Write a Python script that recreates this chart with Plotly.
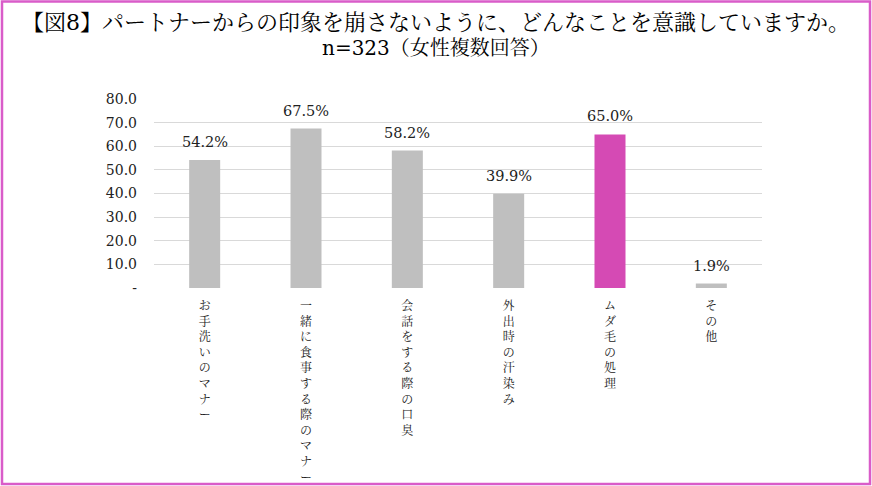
import plotly.graph_objects as go

categories = ["お手洗いのマナー", "一緒に食事する際のマナー", "会話をする際の口臭",
              "外出時の汗染み", "ムダ毛の処理", "その他"]
values = [54.2, 67.5, 58.2, 39.9, 65.0, 1.9]
bar_colors = ["#BFBFBF", "#BFBFBF", "#BFBFBF", "#BFBFBF", "#D54AB4", "#BFBFBF"]
y_tickvals = [0, 10, 20, 30, 40, 50, 60, 70, 80]
y_ticktext = ["-", "10.0", "20.0", "30.0", "40.0", "50.0", "60.0", "70.0", "80.0"]
title_line1 = "【図8】パートナーからの印象を崩さないように、どんなことを意識していますか。"
title_line2 = "n=323（女性複数回答）"

W, H = 872, 486
ML, MR, MT, MB = 154, 110, 99, 198
PW, PH = W - ML - MR, H - MT - MB

SERIF = "DejaVu Serif, Liberation Serif, Noto Serif CJK JP, Noto Sans CJK JP, serif"

vertical_labels = ["<br>".join(list(c)) for c in categories]

fig = go.Figure()
fig.add_trace(go.Bar(
    x=categories, y=values, marker=dict(color=bar_colors, line=dict(width=0)),
    hoverinfo="skip", showlegend=False,
))

for c, v in zip(categories, values):
    fig.add_annotation(x=c, y=v, text=f"{v:.1f}%", showarrow=False,
                       yanchor="middle", yshift=18,
                       font=dict(family=SERIF, size=14.5, color="#222222"))

fig.add_annotation(xref="paper", yref="paper",
                   x=(436 - ML) / PW, y=(H - MB - 48) / PH,
                   text=title_line2, showarrow=False, xanchor="center", yanchor="middle",
                   font=dict(family=SERIF, size=20, color="#000000"))

def px_x(p):
    return (p - ML) / PW

def px_y(p):
    return (H - MB - p) / PH

fig.add_shape(type="rect", xref="paper", yref="paper",
              x0=px_x(2), x1=px_x(870), y0=px_y(484), y1=px_y(1.5),
              line=dict(color="#D95CC9", width=2.5), fillcolor="rgba(0,0,0,0)", layer="above")

fig.update_layout(
    width=W, height=H, autosize=False,
    margin=dict(l=ML, r=MR, t=MT, b=MB, pad=0, autoexpand=False),
    paper_bgcolor="white", plot_bgcolor="white",
    bargap=0.694,
    title=dict(text=title_line1, xref="container", x=0.5, xanchor="center",
               yref="container", y=1 - 22 / H, yanchor="middle", automargin=False,
               font=dict(family=SERIF, size=22, color="#000000")),
    xaxis=dict(tickmode="array", tickvals=categories, ticktext=vertical_labels,
               tickangle=0, showline=False, showgrid=False, zeroline=False,
               ticklabelstandoff=9, automargin=False,
               tickfont=dict(family=SERIF, size=12, color="#222222")),
    yaxis=dict(range=[0, 80], tickmode="array", tickvals=y_tickvals, ticktext=y_ticktext,
               showgrid=True, gridcolor="#D9D9D9", gridwidth=1, zeroline=False,
               showline=False, ticklabelstandoff=16, automargin=False,
               tickfont=dict(family=SERIF, size=14, color="#222222")),
)

fig.write_html("out.html",
               config={"responsive": False, "displayModeBar": False},
               post_script="document.body.style.margin='0';document.body.style.overflow='hidden';")
